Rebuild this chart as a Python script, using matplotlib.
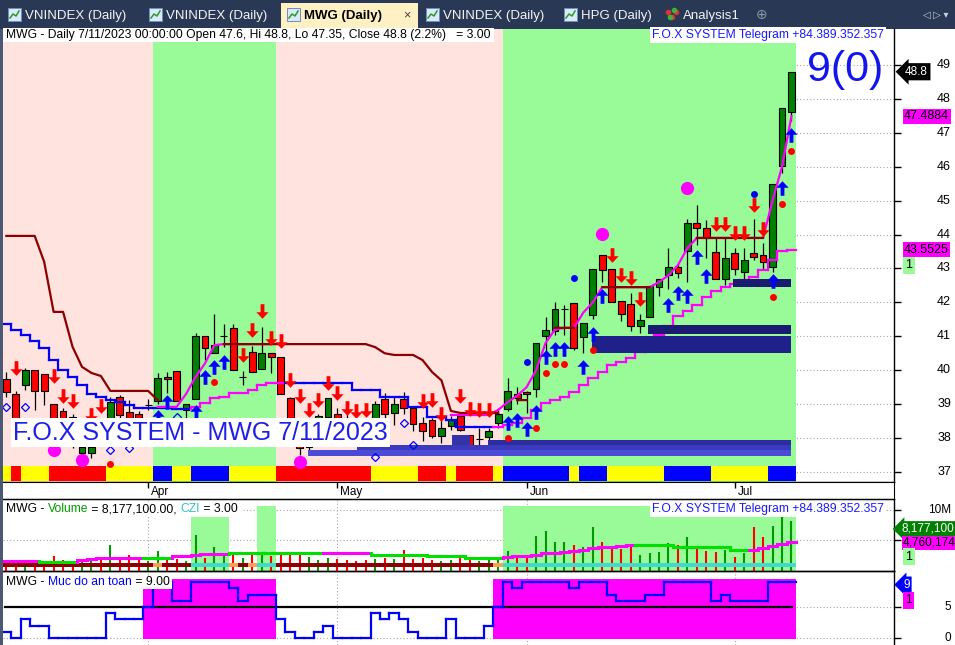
import numpy as np
import matplotlib
matplotlib.use('Agg')
import matplotlib.pyplot as plt
from matplotlib.patches import Rectangle
from matplotlib.path import Path
import matplotlib.transforms as mtransforms

plt.rcParams['font.family'] = ['Liberation Sans', 'DejaVu Sans']

nan = np.nan

# ---------------- data ----------------
months = ['Apr', 'May', 'Jun', 'Jul']
month_bar = [15, 35, 55, 77]

opens = [39.74, 39.3, 39.56, 40.0, 39.89, 39.0, 38.8, 38.62, 37.56, 37.56,
         38.5, 38.44, 39.21, 38.77, 38.7, 38.97, 39.09, 39.8, 39.98, 38.83,
         39.15, 41.0, 40.5, 41.0, 41.24, 39.8, 40.54, 40.04, 40.5, 40.39,
         39.18, 37.9, 37.74, 38.0, 38.62, 38.7, 38.6, 38.3, 38.4, 38.0,
         39.15, 38.74, 39.15, 38.89, 38.44, 38.53, 38.06, 38.36, 38.65, 38.09,
         37.98, 38.03, 38.44, 38.86, 39.3, 39.36, 39.44, 41.0, 41.16, 41.8,
         41.98, 40.98, 41.63, 43.4, 42.98, 42.04, 41.95, 41.3, 41.57, 42.45,
         42.81, 43.04, 43.52, 44.34, 44.2, 43.49, 42.69, 43.46, 42.9, 43.46,
         43.4, 43.04, 46.02, 47.6]
highs = [39.95, 39.4, 40.07, 40.0, 39.89, 39.0, 38.9, 38.7, 38.0, 37.9,
         38.6, 39.2, 39.27, 39.12, 38.8, 39.15, 39.92, 39.95, 39.98, 39.0,
         41.1, 41.0, 41.66, 41.36, 41.36, 39.98, 40.71, 41.27, 40.5, 40.39,
         39.2, 38.6, 38.2, 38.7, 39.18, 38.89, 38.7, 38.4, 38.5, 39.1,
         39.33, 39.2, 39.36, 38.95, 38.62, 38.6, 38.62, 38.65, 38.7, 38.1,
         38.3, 38.3, 38.9, 39.77, 39.5, 39.4, 40.8, 41.57, 42.0, 41.92,
         41.98, 41.39, 42.98, 43.4, 42.98, 42.04, 42.28, 41.66, 42.48, 42.69,
         43.6, 43.16, 44.46, 44.87, 44.43, 43.9, 43.9, 43.6, 43.6, 44.46,
         43.75, 45.49, 47.73, 48.8]
lows = [39.2, 38.2, 39.42, 38.83, 38.98, 37.9, 37.9, 37.7, 37.4, 37.4,
        37.8, 38.3, 38.5, 38.5, 38.3, 38.83, 39.0, 39.33, 39.09, 38.56,
        39.15, 40.3, 40.5, 40.69, 40.0, 39.56, 39.95, 40.04, 39.92, 39.3,
        38.0, 37.5, 37.6, 37.9, 38.5, 38.0, 37.9, 37.8, 37.7, 37.9,
        38.6, 38.4, 38.7, 38.2, 37.9, 38.0, 37.85, 38.24, 38.2, 37.65,
        37.77, 37.9, 38.3, 38.8, 39.0, 38.74, 39.2, 40.5, 41.04, 41.04,
        40.6, 40.5, 41.5, 42.6, 42.0, 41.45, 41.15, 41.1, 41.57, 42.2,
        42.4, 42.72, 42.6, 43.7, 43.3, 42.69, 42.5, 42.8, 42.6, 43.25,
        42.95, 42.9, 45.8, 47.35]
closes = [39.36, 38.4, 40.0, 39.39, 39.39, 38.2, 38.1, 37.9, 37.74, 37.74,
          38.0, 39.06, 38.68, 38.59, 38.6, 38.97, 39.77, 39.74, 39.09, 39.0,
          41.0, 40.66, 40.74, 41.0, 40.0, 39.8, 39.95, 40.5, 40.39, 39.3,
          38.3, 37.7, 38.1, 38.65, 39.18, 38.2, 38.0, 37.9, 37.85, 39.0,
          38.71, 39.0, 38.89, 38.42, 38.2, 38.06, 38.3, 38.53, 38.24, 37.65,
          37.98, 38.21, 38.71, 39.39, 39.18, 39.3, 40.8, 41.2, 41.8, 41.8,
          40.66, 41.39, 42.98, 42.96, 42.0, 41.66, 41.3, 41.48, 42.48, 42.69,
          43.04, 42.87, 44.34, 44.2, 43.9, 42.69, 43.3, 42.98, 43.25, 43.34,
          43.19, 45.49, 47.73, 48.8]

# background regime per bar: p = pink, g = green
regime = 'p' * 16 + 'g' * 13 + 'p' * 24 + 'g' * 31
# bottom ribbon per bar: y = yellow, r = red, b = blue
ribbon = ('y' + 'r' + 'y' * 3 + 'r' * 6 + 'y' * 5 + 'b' * 2 + 'y' * 2 + 'b' * 4 + 'y' * 5
          + 'r' * 10 + 'y' * 5 + 'r' * 3 + 'y' + 'r' * 4 + 'y' + 'b' * 7 + 'y' + 'b' * 3
          + 'y' * 6 + 'b' * 5 + 'y' * 6 + 'b' * 3)

resistance = [43.96, 43.96, 43.96, 43.96, 43.2, 41.72, 41.72, 40.69, 40.1, 39.92,
              39.83, 39.39, 39.39, 39.39, 39.39, 39.39, 39.12, nan, nan, nan,
              nan, nan, nan, 40.77, 40.77, 40.77, 40.77, 40.77, 40.77, 40.77,
              40.77, 40.77, 40.77, 40.77, 40.77, 40.77, 40.77, 40.77, 40.77, 40.68,
              40.5, 40.45, 40.45, 40.45, 40.3, 39.95, 39.7, 38.8, 38.74, 38.74,
              38.74, 38.74, 38.74, nan, 39.12, 39.12, nan, nan, 41.25, 41.25,
              41.25, nan, nan, 42.45, 42.45, 42.45, 42.45, 42.45, 42.45, nan,
              nan, nan, nan, 43.9, 43.9, 43.9, 43.9, 43.9, 43.9, 43.9,
              43.9, nan, nan, nan]
stop_line = [41.36, 41.19, 41.05, 40.85, 40.65, 40.3, 40.0, 39.8, 39.55, 39.3,
             39.2, 39.12, 39.06, 38.97, 38.9, 38.9, 38.9, 38.9, 38.85, 38.85,
             38.92, 39.03, 39.18, 39.2, 39.33, 39.33, 39.42, 39.56, 39.62, 39.62,
             39.62, 39.62, 39.62, 39.62, 39.62, 39.62, 39.62, 39.42, 39.42, 39.42,
             39.2, 39.2, 39.2, 38.92, 38.92, 38.62, 38.62, 38.53, 38.33, 38.33,
             38.33, 38.33, 38.33, 38.39, 38.44, 38.59, 38.83, 39.03, 39.12, 39.21,
             39.36, 39.56, 39.77, 39.95, 40.15, 40.24, 40.36, 40.54, 40.74, 41.04,
             41.3, 41.6, 41.75, 41.92, 42.16, 42.34, 42.45, 42.54, 42.66, 42.75,
             42.96, 43.25, 43.52, 43.55]
stop_dir = 'b' * 20 + 'm' * 10 + 'b' * 22 + 'm' * 32
trail_line = [nan, nan, nan, nan, nan, nan, nan, nan, nan, nan,
              nan, nan, nan, nan, nan, nan, 38.92, 38.92, 38.92, 39.3,
              39.8, 40.2, 40.74, 40.77, 40.77, 40.77, 40.77, 40.77, 40.77, nan,
              nan, nan, nan, nan, nan, nan, nan, nan, nan, nan,
              nan, nan, nan, nan, nan, nan, nan, 38.68, 38.68, 38.68,
              38.68, 38.68, 38.83, 39.06, 39.25, 39.5, 40.0, 40.8, 41.2, 41.25,
              41.25, 41.7, 42.0, 42.45, 42.45, 42.45, 42.45, 42.45, 42.45, 42.6,
              42.8, 43.1, 43.6, 43.9, 43.9, 43.9, 43.9, 43.9, 43.9, 43.9,
              43.9, 45.0, 46.0, 47.49]

sell_bar = [1, 5, 6, 7, 9, 10, 25, 26, 27, 28, 29, 30, 31, 32, 33, 34, 35, 36, 37, 38,
            44, 45, 46, 48, 49, 50, 51, 64, 65, 66, 67, 75, 76, 77, 78, 79, 80]
sell_at = [40.07, 39.83, 39.24, 39.09, 38.68, 38.95, 40.45, 41.19, 41.75, 40.95,
           40.86, 39.71, 39.24, 38.83, 39.12, 39.62, 39.33, 38.89, 38.8, 38.83,
           39.09, 39.12, 38.71, 39.24, 38.86, 38.83, 38.83, 43.4, 42.81, 42.72,
           42.1, 44.31, 44.31, 44.05, 44.05, 44.87, 44.16]
buy_bar = [16, 17, 20, 21, 22, 23, 53, 54, 55, 56, 57, 58, 59, 61, 62, 63, 70, 71, 72,
           73, 74, 81, 82, 83]
buy_at = [38.62, 39.06, 38.77, 39.8, 40.1, 40.24, 38.44, 38.53, 38.27, 38.77, 40.39,
          40.63, 40.63, 40.1, 41.07, 42.19, 41.92, 42.28, 42.19, 43.34, 42.78, 42.63,
          45.37, 46.94]
red_dot_bar = [11, 22, 53, 56, 57, 58, 59, 62, 81, 82, 83]
red_dot_at = [37.24, 39.65, 38.0, 38.3, 39.92, 40.18, 40.18, 40.6, 42.16, 44.9, 46.46]
blue_dot_bar = [55, 60, 79]
blue_dot_at = [40.24, 42.72, 45.2]
big_dot_bar = [5, 8, 31, 63, 72]
big_dot_at = [37.65, 37.35, 37.29, 44.02, 45.37]
diamond_bar = [0, 2, 11, 13, 18, 39, 42, 43]
diamond_at = [38.92, 38.92, 37.65, 37.71, 38.62, 37.44, 38.44, 37.8]

zone_from = [31.9, 37.1, 50.9, 47.1, 61.9, 67.8, 76.8]
zone_to = [83.0, 83.0, 83.0, 49.0, 83.0, 83.0, 83.0]
zone_lo = [37.47, 37.65, 37.80, 37.80, 40.51, 41.07, 42.45]
zone_hi = [37.65, 37.80, 37.94, 38.09, 41.01, 41.33, 42.69]

volume = [1.6, 1.8, 1.4, 1.6, 1.6, 2.5, 1.8, 1.6, 1.5, 1.6,
          1.8, 4.3, 2.1, 2.6, 1.9, 1.6, 3.3, 1.8, 1.9, 1.6,
          5.9, 2.1, 3.9, 3.0, 3.1, 2.1, 2.9, 3.1, 2.5, 3.1,
          2.9, 2.7, 2.3, 1.8, 2.1, 2.0, 1.8, 1.6, 1.8, 2.0,
          2.2, 1.9, 3.5, 1.9, 2.1, 1.8, 1.6, 1.8, 2.1, 2.0,
          1.6, 1.8, 2.0, 3.3, 2.2, 2.7, 5.8, 6.5, 4.8, 4.7,
          4.3, 3.9, 7.2, 4.8, 3.7, 3.6, 4.4, 2.7, 3.0, 3.1,
          4.6, 4.2, 5.6, 3.8, 3.3, 3.1, 3.4, 2.3, 3.0, 7.2,
          5.5, 7.4, 9.0, 8.18]
volume_ma = [1.7, 1.7, 1.7, 1.7, 1.55, 1.55, 1.55, 1.55, 1.8, 1.9,
             2.1, 2.1, 2.1, 2.1, 2.1, 2.2, 2.2, 2.2, 2.4, 2.5,
             2.7, 2.8, 2.8, 2.8, 2.9, 2.9, 2.9, 2.9, 2.9, 2.9,
             2.9, 2.9, 2.9, 2.9, 2.9, 2.9, 2.9, 2.9, 2.9, 2.6,
             2.6, 2.6, 2.6, 2.6, 2.6, 2.4, 2.4, 2.4, 2.4, 2.2,
             2.2, 2.2, 2.2, 2.3, 2.4, 2.5, 2.7, 2.9, 3.0, 3.1,
             3.2, 3.4, 3.7, 3.9, 4.0, 4.1, 4.2, 4.2, 4.2, 4.2,
             4.2, 3.9, 3.9, 3.9, 3.9, 3.9, 3.9, 3.4, 3.4, 3.5,
             3.8, 4.1, 4.5, 4.76]
ma_state = 'm' * 4 + 'g' * 4 + 'm' * 7 + 'g' * 3 + 'm' * 6 + 'g' * 10 + 'm' * 5 + 'g' * 14 + 'm' * 14 + 'g' * 12 + 'm' * 5
vol_strip = 'd' * 16 + 'o' + 'd' * 3 + 't' * 4 + 'o' + 'd' + 'o' + 't' * 2 + 'd' * 23 + 'o' + 't' * 31
czi = [0] * 20 + [2.5] * 4 + [0] * 3 + [3.0] * 2 + [0] * 24 + [3.0] * 31

safety = [1, 0, 3, 2, 2, 0, 0, 0, 0, 0,
          0, 4, 3, 3, 3, 5, 9, 9, 6, 6,
          9, 9, 9, 9, 8, 6, 7, 7, 7, 3,
          1, 0, 0, 1, 2, 0, 0, 0, 0, 4,
          3, 4, 3, 1, 0, 0, 0, 3, 0, 0,
          0, 2, 5, 9, 8, 9, 9, 9, 9, 9,
          8, 9, 9, 9, 7, 6, 6, 6, 7, 7,
          9, 9, 9, 9, 9, 6, 7, 6, 6, 6,
          6, 9, 9, 9]
safe_zone = 'n' * 15 + 's' * 14 + 'n' * 23 + 's' * 32

# ---------------- figure ----------------
W, H = 955, 645
fig = plt.figure(figsize=(W / 100, H / 100), dpi=100)
fig.patch.set_facecolor('white')
XLIM = (-0.35, 93.84)
idx = np.arange(len(closes))
GRID = dict(color='#a8a8a8', lw=0.8, ls=(0, (1, 2)))
HDR = 8.7


def add_ax(x0, y0, x1, y1):
    return fig.add_axes([x0 / W, 1 - y1 / H, (x1 - x0) / W, (y1 - y0) / H])


def ptext(x, y, s, **kw):
    return fig.text(x / W, 1 - y / H, s, **kw)


def runs(seq):
    out, start = [], 0
    for i in range(1, len(seq) + 1):
        if i == len(seq) or seq[i] != seq[start]:
            out.append((start, i - 1, seq[start]))
            start = i
    return out


def step_line(ax, vals, cols, lw, z):
    for i, v in enumerate(vals):
        ax.plot([i - 0.5, i + 0.5], [v, v], color=cols[i], lw=lw, zorder=z,
                solid_capstyle='projecting')
        if i + 1 < len(vals):
            ax.plot([i + 0.5, i + 0.5], [v, vals[i + 1]], color=cols[i + 1], lw=lw, zorder=z)


def text_row(x, y, pieces, size=HDR):
    r = fig.canvas.get_renderer()
    ref = ptext(0, 0, 'x', fontsize=size)
    wx = ref.get_window_extent(r).width
    ref.remove()
    full = ''
    for s, c in pieces:
        off = 0
        if full:
            probe = ptext(0, 0, full + 'x', fontsize=size)
            off = probe.get_window_extent(r).width - wx
            probe.remove()
        ptext(x + off, y, s, color=c, fontsize=size, va='center', zorder=21)
        full += s
    probe = ptext(0, 0, full + 'x', fontsize=size)
    total = probe.get_window_extent(r).width - wx
    probe.remove()
    fig.add_artist(Rectangle(((x - 3) / W, 1 - (y + 6.5) / H), (total + 6) / W, 13 / H,
                             transform=fig.transFigure, fc='white', ec='none', zorder=20))


def rlabel(ax, yv, s, x=951, ha='right', size=9, **kw):
    tr = mtransforms.blended_transform_factory(fig.transFigure, ax.transData)
    fig.text(x / W, yv, s, transform=tr, ha=ha, va='center', fontsize=size, zorder=25, **kw)


def pane_spines(ax, top=False):
    ax.spines['left'].set_visible(False)
    ax.spines['top'].set_visible(top)
    for s in ['right', 'bottom', 'top']:
        ax.spines[s].set_linewidth(1.0)
    ax.set_xticks([])
    ax.yaxis.tick_right()
    ax.tick_params(axis='y', length=5, width=1, labelright=False, labelleft=False)


# ---------------- tab bar ----------------
axt = add_ax(0, 0, W, 29)
axt.set_xlim(0, W)
axt.set_ylim(29, 0)
axt.axis('off')
axt.add_patch(Rectangle((0, 0), W, 29, fc='#293955', lw=0))
tab_names = ['VNINDEX (Daily)', 'VNINDEX (Daily)', 'MWG (Daily)', 'VNINDEX (Daily)',
             'HPG (Daily)', 'Analysis1']
tab_span = [(2, 141), (143, 279), (281, 418), (420, 556), (558, 658), (660, 748)]
for i, (name, (a, b)) in enumerate(zip(tab_names, tab_span)):
    active = name == 'MWG (Daily)'
    if active:
        axt.add_patch(Rectangle((a, 3), b - a, 26, fc='#fff1c4', lw=0))
    if name == 'Analysis1':
        axt.plot([a + 8, a + 12, a + 16], [12, 17, 12], 'o', ms=4, mew=0,
                 color='#e03030')
        axt.plot([a + 10, a + 14], [17, 10], 'o', ms=4, mew=0, color='#40b040')
    else:
        axt.add_patch(Rectangle((a + 6, 8), 13, 13, fc='#dce9f8', ec='#6d8fc0', lw=0.7))
        axt.plot([a + 8, a + 11, a + 14, a + 17], [18, 14, 16, 11], color='#2a9a2a', lw=1.1)
    axt.text(a + 23, 15.5, name, fontsize=9.5, va='center',
             color='black' if active else '#f4f4f4',
             fontweight='bold' if active else 'normal')
axt.text(407, 15, '×', fontsize=9, va='center', ha='center', color='#404040')
axt.text(762, 15, '⊕', fontsize=10, va='center', ha='center', color='#8a96aa')
axt.text(936, 15, '◁ ▷ ▾', fontsize=7, va='center', ha='center', color='#c8d0dc')

# ---------------- price pane ----------------
ax = add_ax(3, 29, 894, 482)
ax.set_xlim(*XLIM)
ax.set_ylim(36.705, 50.06)
pane_spines(ax)
ax.set_yticks(range(37, 50))
for p in range(37, 50):
    ax.axhline(p, zorder=0.2, **GRID)
    rlabel(ax, p, str(p))

BG = {'p': '#ffe3df', 'g': '#98fb98'}
for a, b, k in runs(regime):
    ax.axvspan(a - 0.5, b + 0.5, color=BG[k], lw=0, zorder=0.5)

RIB = {'y': '#ffff00', 'r': '#ff0000', 'b': '#0000ff'}
ax.bar(idx, 0.44, bottom=36.735, width=1.0, color=[RIB[c] for c in ribbon], lw=0, zorder=1)

# candles
o, h, l, c = map(np.array, (opens, highs, lows, closes))
body_col = np.where(c > o, '#008000', np.where(c < o, '#ff0000', 'black'))
ax.vlines(idx, l, h, color='black', lw=0.9, zorder=3)
ax.bar(idx, np.abs(c - o), bottom=np.minimum(o, c), width=0.72, color=body_col,
       edgecolor='black', linewidth=0.8, zorder=4)

# lines
sl_cols = ['#0000ff' if d == 'b' else '#ff00ff' for d in stop_dir]
step_line(ax, stop_line, sl_cols, 1.6, 5)
ax.plot(idx, trail_line, color='#ff00ff', lw=1.6, zorder=5.2)
ax.plot(idx, resistance, color='#8b0000', lw=1.6, zorder=5.4)

zone_col = ['#4b4bd6', '#3a3abf', '#2c2c9e', '#3434a8', '#20208a', '#1a1a72', '#1a1a72']
for x0, x1, lo, hi, col in zip(zone_from, zone_to, zone_lo, zone_hi, zone_col):
    ax.add_patch(Rectangle((x0, lo), x1 - x0, hi - lo, fc=col, lw=0, zorder=5.6))

# markers
up_arrow = Path([(0, 0.5), (0.42, 0.05), (0.13, 0.05), (0.13, -0.5), (-0.13, -0.5),
                 (-0.13, 0.05), (-0.42, 0.05), (0, 0.5)],
                [Path.MOVETO] + [Path.LINETO] * 6 + [Path.CLOSEPOLY])
down_arrow = Path(up_arrow.vertices * [1, -1], up_arrow.codes)
ax.plot(sell_bar, sell_at, ls='none', marker=down_arrow, ms=10.5, mew=0, color='#ff0000', zorder=7)
ax.plot(buy_bar, buy_at, ls='none', marker=up_arrow, ms=10.5, mew=0, color='#0000ff', zorder=7)
ax.plot(red_dot_bar, red_dot_at, ls='none', marker='o', ms=5, mew=0, color='#ff0000', zorder=7)
ax.plot(blue_dot_bar, blue_dot_at, ls='none', marker='o', ms=5, mew=0, color='#0000ff', zorder=7)
ax.plot(big_dot_bar, big_dot_at, ls='none', marker='o', ms=9.5, mew=0, color='#ff00ff', zorder=7)
ax.plot(diamond_bar, diamond_at, ls='none', marker='D', ms=3.6, mfc='none', mec='#0000ff',
        mew=0.9, zorder=7)

# right side value labels
rlabel(ax, closes[-1], '48.8', x=905, ha='left', size=8.5, color='white',
       bbox=dict(boxstyle='larrow,pad=0.22', fc='black', ec='none'))
rlabel(ax, trail_line[-1], '47.4884', x=904, ha='left', size=9, color='black',
       bbox=dict(boxstyle='square,pad=0.12', fc='#ff00ff', ec='none'))
rlabel(ax, stop_line[-1], '43.5525', x=904, ha='left', size=9, color='black',
       bbox=dict(boxstyle='square,pad=0.12', fc='#ff00ff', ec='none'))
rlabel(ax, 43.1, '1', x=905, ha='left', size=9, color='black',
       bbox=dict(boxstyle='square,pad=0.2', fc='#98fb98', ec='none'))

text_row(6, 35, [('MWG - Daily 7/11/2023 00:00:00 Open 47.6, Hi 48.8, Lo 47.35, '
                  'Close 48.8 (2.2%)   = 3.00', 'black')])
ptext(884, 35, 'F.O.X SYSTEM Telegram +84.389.352.357', ha='right', va='center', fontsize=HDR,
      color='#1a1aff', zorder=21,
      bbox=dict(boxstyle='square,pad=0.15', fc='white', ec='none'))
ptext(807, 70, '9(0)', fontsize=31, color='#1414ee', va='center', zorder=21)
ptext(13, 432.5, 'F.O.X SYSTEM - MWG 7/11/2023', fontsize=18, color='#1f1fe8', va='center',
      zorder=21, bbox=dict(boxstyle='square,pad=0.1', fc='white', ec='none'))

# ---------------- date strip ----------------
axd = add_ax(3, 482, 894, 499)
axd.set_xlim(*XLIM)
axd.set_ylim(0, 1)
axd.set_yticks([])
axd.set_xticks([])
axd.spines['left'].set_visible(False)
axd.vlines(month_bar, 0.62, 1.0, color='black', lw=1)
for m, b in zip(months, month_bar):
    axd.text(b + 0.3, 0.42, m, fontsize=8.5, va='center', ha='left')

# ---------------- volume pane ----------------
axv = add_ax(3, 499, 894, 571)
axz = add_ax(3, 499, 894, 571)
axz.set_zorder(0)
axv.set_zorder(1)
axv.patch.set_visible(False)
for a_ in (axv, axz):
    a_.set_xlim(*XLIM)
axv.set_ylim(0, 11.8)
axz.set_ylim(0, 3.32)
axz.axis('off')
pane_spines(axv, top=True)
axv.set_yticks([5, 10])
for v in (5, 10):
    axz.axhline(v * 3.32 / 11.8, zorder=0, **GRID)
axz.vlines(month_bar, 0, 3.32, zorder=0, **GRID)
axz.bar(idx, czi, width=1.0, color='#98fb98', lw=0, zorder=1)

vcol = np.where(c >= o, '#009a00', '#ff0000')
axv.vlines(idx, 0, volume, colors=vcol, lw=1.5, zorder=2)
STRIP = {'d': '#8b0000', 't': '#40d8d0', 'o': '#ffa050'}
axv.bar(idx, 0.65, bottom=0.66, width=1.0, color=[STRIP[s] for s in vol_strip], lw=0, zorder=3)
step_line(axv, volume_ma, ['#ff00ff' if s == 'm' else '#00e000' for s in ma_state], 2.2, 4)

rlabel(axv, 10, '10M', size=8.5)
rlabel(axv, 6.9, '8,177,100', x=901, ha='left', size=8.5, color='white',
       bbox=dict(boxstyle='larrow,pad=0.15', fc='#008000', ec='none'))
rlabel(axv, 4.6, '4,760,174', x=903, ha='left', size=8.5, color='black',
       bbox=dict(boxstyle='square,pad=0.12', fc='#ff00ff', ec='none'))
rlabel(axv, 2.3, '1', x=905, ha='left', size=9, color='black',
       bbox=dict(boxstyle='square,pad=0.2', fc='#98fb98', ec='none'))

text_row(6, 509, [('MWG - ', 'black'), ('Volume', '#009a00'), (' = 8,177,100.00, ', 'black'),
                  ('CZI', '#30c0c8'), (' = 3.00', 'black')])
ptext(884, 509, 'F.O.X SYSTEM Telegram +84.389.352.357', ha='right', va='center', fontsize=HDR,
      color='#1a1aff', zorder=21,
      bbox=dict(boxstyle='square,pad=0.15', fc='white', ec='none'))

# ---------------- safety pane ----------------
axs = add_ax(3, 571, 894, 645)
axs.set_xlim(*XLIM)
axs.set_ylim(-1.13, 10.8)
pane_spines(axs, top=True)
axs.spines['bottom'].set_visible(False)
axs.set_yticks([0, 5])
for v in (0, 5):
    axs.axhline(v, zorder=0, **GRID)
axs.vlines(month_bar, -1.13, 10.8, zorder=0, **GRID)
zone_idx = [i for i, z in enumerate(safe_zone) if z == 's']
axs.bar(zone_idx, 9.66, bottom=-0.16, width=1.0, color='#ff00ff', lw=0, zorder=1)
axs.hlines(5, -0.2, 83.2, color='black', lw=1.6, zorder=3)
step_line(axs, safety, ['#0000ff'] * len(safety), 1.6, 4)

rlabel(axs, 5, '5', size=8.5)
rlabel(axs, 0, '0', size=8.5)
rlabel(axs, 8.6, '9', x=903, ha='left', size=8.5, color='white',
       bbox=dict(boxstyle='larrow,pad=0.18', fc='#0000ff', ec='none'))
rlabel(axs, 6.1, '1', x=905, ha='left', size=8.5, color='black',
       bbox=dict(boxstyle='square,pad=0.2', fc='#ff00ff', ec='none'))
text_row(6, 582, [('MWG - ', 'black'), ('Muc do an toan', '#0000ff'), (' = 9.00', 'black')])

# left window border
fig.add_artist(Rectangle((0, 0), 3 / W, 1 - 29 / H, transform=fig.transFigure,
                         fc='#4a5873', ec='none', zorder=30))

fig.savefig('out.png', dpi=100)
